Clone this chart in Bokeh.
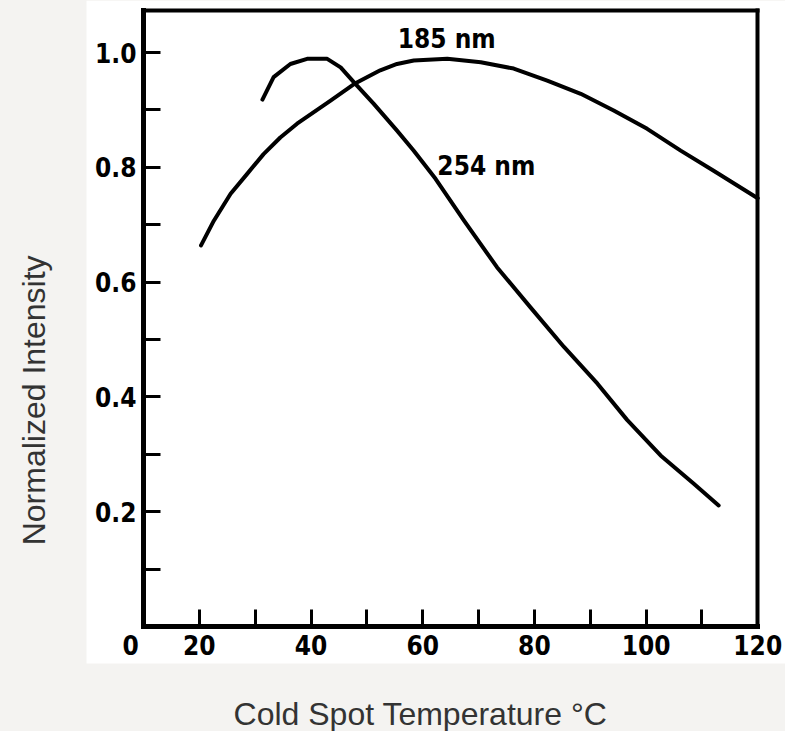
import math
from bokeh.plotting import figure
from bokeh.models import (LinearAxis, FixedTicker, PrintfTickFormatter, Range1d, Label,
                          BoxAnnotation, GlobalInlineStyleSheet)
from bokeh.embed import file_html
from bokeh.resources import INLINE

# ---- data ----
temp_185 = [20.3, 22.6, 25.6, 28.6, 31.5, 34.5, 37.5, 40.5, 43.5, 47.7, 52.4, 55.4,
            58.4, 64.4, 70.4, 76.3, 82.3, 88.3, 94.2, 100.2, 106.2, 112.1, 120.0]
int_185 = [0.664, 0.707, 0.754, 0.789, 0.823, 0.852, 0.876, 0.896, 0.916, 0.945, 0.969, 0.980,
           0.986, 0.989, 0.983, 0.972, 0.951, 0.928, 0.899, 0.867, 0.829, 0.794, 0.746]

temp_254 = [31.3, 33.3, 36.3, 39.3, 42.9, 45.3, 47.7, 51.2, 55.4, 58.4, 62.3, 67.4,
            73.3, 79.3, 85.3, 91.3, 96.6, 102.6, 108.5, 113.0]
int_254 = [0.918, 0.957, 0.980, 0.989, 0.989, 0.974, 0.948, 0.911, 0.864, 0.829, 0.780, 0.707,
           0.626, 0.556, 0.487, 0.423, 0.360, 0.298, 0.249, 0.211]

x_label_ticks = [7.7, 20, 40, 60, 80, 100, 120]
x_tick_marks = [20, 30, 40, 50, 60, 70, 80, 90, 100, 110]
y_major_ticks = [0.2, 0.4, 0.6, 0.8, 1.0]
y_minor_ticks = [0.1, 0.3, 0.5, 0.7, 0.9]
x_box = (10, 120)
y_box = (0, 1.0732)

series_labels = ["185 nm", "254 nm"]
x_title = "Cold Spot Temperature °C"
y_title = "Normalized Intensity"

GRAY = "#f4f3f1"
TICK_FONT = "'DejaVu Sans Condensed', 'DejaVu Sans', sans-serif"
TITLE_FONT = "'Liberation Sans', Arial, sans-serif"

# the frame covers the whole canvas; the white chart panel is a box annotation
p = figure(width=785, height=731, output_backend="svg", toolbar_location=None,
           x_axis_location=None, y_axis_location=None,
           x_range=Range1d(-15.61, 124.97), y_range=Range1d(-0.1829, 1.0906))
p.min_border = 0
p.background_fill_color = GRAY
p.border_fill_color = GRAY
p.outline_line_color = None
p.grid.visible = False
p.stylesheets = [GlobalInlineStyleSheet(css="html,body{background:%s;margin:0;padding:0;}" % GRAY)]

p.add_layout(BoxAnnotation(left=-0.208, bottom=-0.0645, fill_color="white", fill_alpha=1.0,
                           line_color=None, level="underlay"))

def style_line(ax, w):
    ax.axis_line_color = "black"
    ax.axis_line_width = w
    ax.axis_line_cap = "square"

# left axis with ticks and labels
yax = LinearAxis(fixed_location=x_box[0], bounds=y_box,
                 ticker=FixedTicker(ticks=y_major_ticks, minor_ticks=y_minor_ticks),
                 formatter=PrintfTickFormatter(format="%.1f"))
style_line(yax, 5)
for pre in ("major", "minor"):
    setattr(yax, pre + "_tick_in", 17)
    setattr(yax, pre + "_tick_out", 0)
    setattr(yax, pre + "_tick_line_width", 3)
    setattr(yax, pre + "_tick_line_color", "black")
yax.major_label_text_font = TICK_FONT
yax.major_label_text_font_style = "bold"
yax.major_label_text_font_size = "26px"
yax.major_label_text_color = "black"
yax.major_label_standoff = 7
p.add_layout(yax, "left")

# bottom axis line + tick marks
xax = LinearAxis(fixed_location=y_box[0], bounds=x_box,
                 ticker=FixedTicker(ticks=x_tick_marks, minor_ticks=[]))
style_line(xax, 5)
xax.major_tick_in = 17
xax.major_tick_out = 0
xax.major_tick_line_width = 3
xax.major_tick_line_color = "black"
xax.minor_tick_line_color = None
xax.major_label_text_color = None
p.add_layout(xax, "below")

# bottom axis labels
xlab = LinearAxis(fixed_location=y_box[0],
                  ticker=FixedTicker(ticks=x_label_ticks, minor_ticks=[]))
xlab.axis_line_color = None
xlab.major_tick_line_color = None
xlab.minor_tick_line_color = None
xlab.major_tick_in = 0
xlab.major_tick_out = 0
xlab.major_label_overrides = {7.7: "0"}
xlab.major_label_text_font = TICK_FONT
xlab.major_label_text_font_style = "bold"
xlab.major_label_text_font_size = "26px"
xlab.major_label_text_color = "black"
xlab.major_label_standoff = 8
p.add_layout(xlab, "below")

# top and right frame lines
top = LinearAxis(fixed_location=y_box[1], bounds=x_box, ticker=FixedTicker(ticks=[]))
style_line(top, 4)
top.major_tick_line_color = None
top.minor_tick_line_color = None
top.major_label_text_color = None
p.add_layout(top, "above")

right = LinearAxis(fixed_location=x_box[1], bounds=y_box, ticker=FixedTicker(ticks=[]))
style_line(right, 4)
right.major_tick_line_color = None
right.minor_tick_line_color = None
right.major_label_text_color = None
p.add_layout(right, "right")

# curves
p.line(temp_185, int_185, line_color="black", line_width=4, line_join="round", line_cap="round")
p.line(temp_254, int_254, line_color="black", line_width=4, line_join="round", line_cap="round")

p.add_layout(Label(x=64.3, y=1.023, text=series_labels[0], text_align="center",
                   text_baseline="middle", text_font=TICK_FONT, text_font_style="bold",
                   text_font_size="26px", text_color="black"))
p.add_layout(Label(x=71.4, y=0.803, text=series_labels[1], text_align="center",
                   text_baseline="middle", text_font=TICK_FONT, text_font_style="bold",
                   text_font_size="26px", text_color="black"))

# axis titles, in the gray area
p.add_layout(Label(x=59.6, y=-0.1524, text=x_title, text_align="center",
                   text_baseline="alphabetic", text_font=TITLE_FONT,
                   text_font_size="32px", text_color="#333333"))
p.add_layout(Label(x=-9.6, y=0.394, text=y_title, text_align="center", angle=math.pi / 2,
                   text_baseline="alphabetic", text_font=TITLE_FONT,
                   text_font_size="32px", text_color="#333333"))

open("out.html", "w").write(file_html(p, INLINE))
